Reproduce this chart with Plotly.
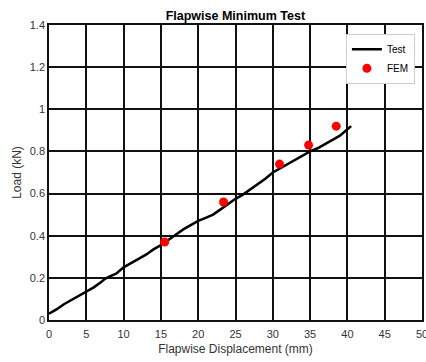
import plotly.graph_objects as go

# Measured load-displacement curve (flapwise minimum test)
test_disp = [0, 1, 2, 3, 4, 5, 6, 7, 7.5, 8, 9, 10, 11, 12, 13, 14, 15, 16, 17,
             18, 19, 20, 21, 22, 23, 24, 25, 26, 27, 28, 29, 30, 31, 32, 33, 34,
             35, 36, 37, 38, 39, 40, 40.5]
test_load = [0.03, 0.05, 0.075, 0.095, 0.115, 0.135, 0.155, 0.18, 0.195, 0.205,
             0.22, 0.25, 0.27, 0.29, 0.31, 0.335, 0.355, 0.38, 0.405, 0.43, 0.45,
             0.47, 0.485, 0.50, 0.525, 0.55, 0.575, 0.595, 0.62, 0.645, 0.67,
             0.70, 0.72, 0.74, 0.76, 0.78, 0.80, 0.815, 0.835, 0.855, 0.875,
             0.905, 0.92]

# Finite element predictions
fem_disp = [15.5, 23.4, 30.9, 34.8, 38.5]
fem_load = [0.37, 0.56, 0.74, 0.83, 0.92]

x_ticks = [0, 5, 10, 15, 20, 25, 30, 35, 40, 45, 50]
y_ticks = [0, 0.2, 0.4, 0.6, 0.8, 1, 1.2, 1.4]

FONT = "Liberation Sans, Arial, sans-serif"

fig = go.Figure()
fig.add_trace(go.Scatter(
    x=test_disp, y=test_load, mode="lines", name="Test",
    line=dict(color="black", width=2.5),
))
fig.add_trace(go.Scatter(
    x=fem_disp, y=fem_load, mode="markers", name="FEM",
    marker=dict(color="#ff0000", size=9),
))

axis_common = dict(
    showgrid=True, gridcolor="#111111", gridwidth=1.5,
    showline=True, linecolor="#111111", linewidth=1.5, mirror=True,
    zeroline=False, ticks="", automargin=False,
    ticklabeloverflow="allow",
    tickfont=dict(family=FONT, size=11, color="#333333"),
)

fig.update_layout(
    width=426, height=362,
    margin=dict(l=49, r=4, t=25, b=42),
    paper_bgcolor="white", plot_bgcolor="white",
    title=dict(text="<b>Flapwise Minimum Test</b>", x=0.5525, xanchor="center",
               y=0.958, yanchor="middle",
               font=dict(family=FONT, size=12.5, color="black")),
    xaxis=dict(range=[0, 50], tickvals=x_ticks, ticklabelstandoff=3,
               title=dict(text="Flapwise Displacement (mm)", standoff=6,
                          font=dict(family=FONT, size=12, color="#333333")),
               **axis_common),
    yaxis=dict(range=[0, 1.4], tickvals=y_ticks,
               title=dict(text="Load (kN)", standoff=6,
                          font=dict(family=FONT, size=12, color="#333333")),
               **axis_common),
    legend=dict(x=0.796, y=0.97, xanchor="left", yanchor="top",
                bgcolor="white", bordercolor="#cccccc", borderwidth=1,
                font=dict(family=FONT, size=10, color="black"),
                tracegroupgap=0, itemwidth=30),
    showlegend=True,
)

fig.write_html("out.html")
